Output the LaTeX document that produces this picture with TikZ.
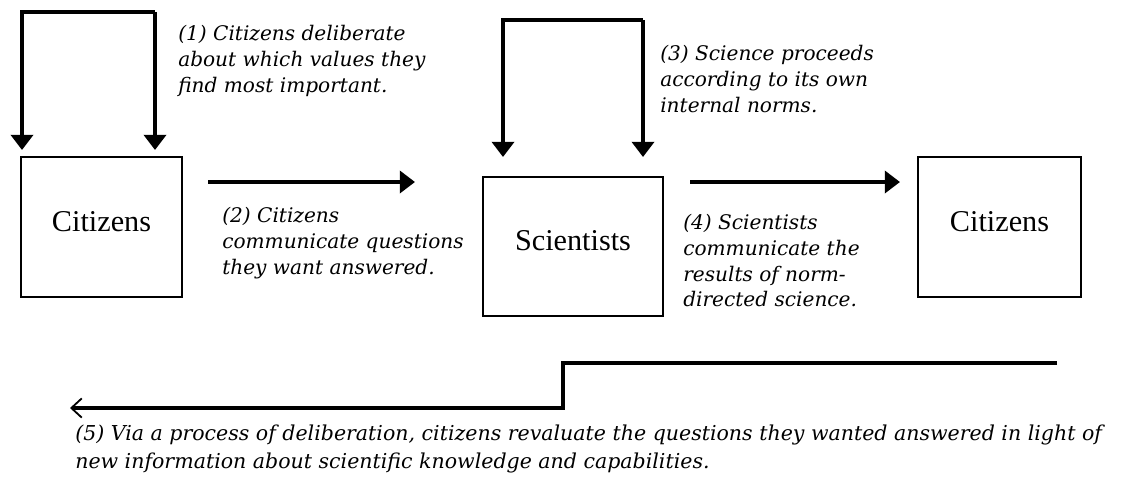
\documentclass[tikz,border=0pt]{standalone}
\usepackage{fontspec}
\newfontfamily\boxfont{Liberation Serif}
\newfontfamily\notefont{DejaVu Serif}
\usetikzlibrary{arrows.meta,positioning}

\tikzset{
	actor/.style={draw, line width=0.9pt, inner sep=0, outer sep=0, text depth=0.3cm, font=\boxfont\fontsize{21.5}{25}\selectfont},
	flow/.style={line width=2.8pt, -{Triangle[width=0.55cm,length=0.38cm]}},
	note/.style={anchor=north west, inner sep=0, align=left, font=\notefont\itshape\fontsize{14.3}{18.3}\selectfont},
}

\begin{document}
\begin{tikzpicture}[x=0.025cm, y=-0.025cm]
		\useasboundingbox (0,0) rectangle (1126,483);
		% boxes
		\node[actor, minimum width=4.025cm, minimum height=3.5cm] (cit1) at (101.5,227) {Citizens};
		\node[actor, minimum width=4.5cm, minimum height=3.475cm] (sci) at (573,246.5) {Scientists};
		\node[actor, minimum width=4.075cm, minimum height=3.5cm] (cit2) at (999.5,227) {Citizens};
		% loops
		\coordinate (l1a) at (22,150); \coordinate (l1b) at (155,150);
		\draw[flow] (l1b |- 0,12) -- (l1b);
		\draw[flow] (l1b |- 0,12) -- (l1a |- 0,12) -- (l1a);
		\coordinate (l3a) at (503,157); \coordinate (l3b) at (643,157);
		\draw[flow] (l3b |- 0,20) -- (l3b);
		\draw[flow] (l3b |- 0,20) -- (l3a |- 0,20) -- (l3a);
		% forward arrows
		\coordinate (a2s) at (208,182); \coordinate (a2e) at (415,182);
		\draw[flow] (a2s) -- (a2e);
		\coordinate (a4s) at (690,182); \coordinate (a4e) at (900,182);
		\draw[flow] (a4s) -- (a4e);
		% feedback
		\coordinate (fbs) at (1057,363); \coordinate (fbe) at (70,408);
		\draw[line width=2.8pt, -{Straight Barb[width=0.48cm,length=0.26cm,line width=1.3pt]}]
			(fbs) -- (563,363) -- (563,408) -- (fbe);
		% labels
		\node[note] (t1) at (178,25) {(1) Citizens deliberate\\about which values they\\find most important.};
		\node[note] (t2) at (222,207) {(2) Citizens\\communicate questions\\they want answered.};
		\node[note] (t3) at (660,45) {(3) Science proceeds\\according to its own\\internal norms.};
		\node[note] (t4) at (683,214) {(4) Scientists\\communicate the\\results of norm-\\directed science.};
		\node[note, font=\notefont\itshape\fontsize{14.6}{19.5}\selectfont] (t5) at (75,425) {(5) Via a process of deliberation, citizens revaluate the questions they wanted answered in light of\\new information about scientific knowledge and capabilities.};
\end{tikzpicture}
\end{document}
